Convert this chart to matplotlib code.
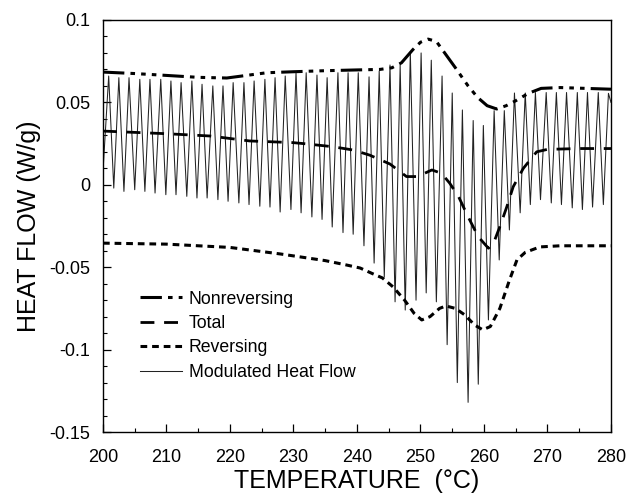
import matplotlib.pyplot as plt
import numpy as np
from matplotlib.ticker import MultipleLocator, FuncFormatter

plt.rcParams['font.family'] = ['Liberation Sans', 'DejaVu Sans']
plt.rcParams['axes.unicode_minus'] = False

# Nonreversing heat flow
nonrev_temp = [200, 205, 209, 215, 219.5, 225.8, 230, 234.7, 240, 243.6, 245.5, 247, 248.8, 250,
               251.2, 252.5, 254, 255.5, 257.5, 259, 260.5, 262, 263.5, 265, 267, 269, 272, 276, 280]
nonrev_flow = [0.0684, 0.0675, 0.0666, 0.0652, 0.0648, 0.068, 0.0686, 0.0692, 0.0697, 0.070, 0.071,
               0.074, 0.082, 0.0865, 0.0884, 0.087, 0.079, 0.071, 0.060, 0.053, 0.048, 0.046, 0.048,
               0.051, 0.0555, 0.0585, 0.059, 0.0585, 0.058]

# Total heat flow
total_temp = [200, 210, 216.9, 223.1, 229.9, 232.1, 236.2, 239.4, 242, 245.2, 247.8, 249.5, 251.8,
              253.3, 254.6, 256, 257.5, 259.1, 260.7, 261.5, 262.5, 263.6, 264.6, 266.2, 268.3,
              270, 275, 280]
total_flow = [0.0326, 0.031, 0.0296, 0.0266, 0.0256, 0.0248, 0.0231, 0.0211, 0.018, 0.0126, 0.005,
              0.005, 0.009, 0.007, 0.001, -0.0072, -0.0194, -0.0315, -0.0385, -0.0355, -0.0254,
              -0.0133, -0.0012, 0.010, 0.020, 0.0215, 0.022, 0.022]

# Reversing heat flow
rev_temp = [200, 210, 220, 228, 235, 238.4, 240.5, 242.5, 244, 245.7, 247.5, 249, 250.2, 251.5,
            253, 254, 255.5, 257, 258.5, 259.8, 261, 262.5, 264, 265.2, 266.5, 268.8, 272, 280]
rev_flow = [-0.0354, -0.036, -0.038, -0.042, -0.046, -0.0487, -0.0505, -0.054, -0.0565, -0.062,
            -0.070, -0.078, -0.082, -0.080, -0.075, -0.0735, -0.075, -0.079, -0.085, -0.088,
            -0.086, -0.075, -0.058, -0.0455, -0.041, -0.0377, -0.037, -0.037]

# Modulated heat flow: peaks and troughs of each cycle
peak_temp = [200.9, 202.5, 204.1, 205.8, 207.4, 209.1, 210.7, 212.3, 214.0, 215.6, 217.3, 218.9,
             220.5, 222.2, 223.8, 225.5, 227.1, 228.7, 230.4, 232.0, 233.7, 235.3, 237.0, 238.6,
             240.2, 241.9, 243.5, 245.2, 246.8, 248.4, 250.1, 251.7, 253.4, 255.0, 256.6, 258.3,
             259.9, 261.6, 263.2, 264.8, 266.5, 268.1, 269.8, 271.4, 273.0, 274.7, 276.3, 278.0,
             279.6]
peak_flow = [0.066, 0.065, 0.065, 0.064, 0.064, 0.064, 0.063, 0.062, 0.063, 0.061, 0.060, 0.060,
             0.062, 0.062, 0.063, 0.064, 0.065, 0.066, 0.068, 0.068, 0.0666, 0.065, 0.068, 0.068,
             0.068, 0.0655, 0.069, 0.0727, 0.0727, 0.0806, 0.080, 0.0756, 0.066, 0.0557, 0.0454,
             0.039, 0.036, 0.045, 0.045, 0.0557, 0.0557, 0.056, 0.056, 0.056, 0.056, 0.056, 0.056,
             0.056, 0.0555]
trough_temp = [201.7, 203.3, 205.0, 206.6, 208.2, 209.9, 211.5, 213.2, 214.8, 216.4, 218.1, 219.7,
               221.4, 223.0, 224.7, 226.3, 227.9, 229.6, 231.2, 232.9, 234.5, 236.1, 237.8, 239.4,
               241.1, 242.7, 244.3, 246.0, 247.6, 249.3, 250.9, 252.5, 254.2, 255.8, 257.5, 259.1,
               260.7, 262.4, 264.0, 265.7, 267.3, 268.9, 270.6, 272.2, 273.9, 275.5, 277.1, 278.8]
trough_flow = [-0.002, -0.004, -0.003, -0.004, -0.005, -0.006, -0.006, -0.007, -0.008, -0.008,
               -0.009, -0.010, -0.011, -0.012, -0.013, -0.0135, -0.0165, -0.015, -0.017, -0.0195,
               -0.021, -0.0256, -0.029, -0.030, -0.037, -0.0475, -0.056, -0.071, -0.076, -0.070,
               -0.0656, -0.071, -0.097, -0.120, -0.132, -0.121, -0.082, -0.0456, -0.0274, -0.017,
               -0.012, -0.009, -0.011, -0.012, -0.014, -0.015, -0.0135, -0.012]
mod_start = (200.0, 0.008)
mod_end = (280.0, 0.050)

mod_temp = np.concatenate([[mod_start[0]], peak_temp, trough_temp, [mod_end[0]]])
mod_flow = np.concatenate([[mod_start[1]], peak_flow, trough_flow, [mod_end[1]]])
order = np.argsort(mod_temp)
mod_temp = mod_temp[order]
mod_flow = mod_flow[order]

fig = plt.figure(figsize=(6.26, 4.96), dpi=100)
ax = fig.add_axes([0.1645, 0.129, 0.8115, 0.8307])

l4, = ax.plot(mod_temp, mod_flow, color='#222222', lw=0.75, label='Modulated Heat Flow', zorder=2)
l1, = ax.plot(nonrev_temp, nonrev_flow, color='black', lw=2.2,
              dashes=(7, 2, 1.5, 2, 1.5, 2, 1.5, 2), label='Nonreversing', zorder=3)
l2, = ax.plot(total_temp, total_flow, color='black', lw=2.0, dashes=(5, 3.5),
              label='Total', zorder=3)
l3, = ax.plot(rev_temp, rev_flow, color='black', lw=2.2, dashes=(2.2, 1.6),
              label='Reversing', zorder=3)

ax.set_xlim(200, 280)
ax.set_ylim(-0.15, 0.1)
ax.xaxis.set_major_locator(MultipleLocator(10))
ax.xaxis.set_minor_locator(MultipleLocator(5))
ax.yaxis.set_major_locator(MultipleLocator(0.05))
ax.yaxis.set_minor_locator(MultipleLocator(0.01))
ax.yaxis.set_major_formatter(FuncFormatter(lambda v, p: '%g' % round(v, 3)))
ax.tick_params(which='both', direction='in', labelsize=13, top=False, right=False)
ax.tick_params(axis='x', which='major', length=6, width=0.9, pad=12)
ax.tick_params(axis='y', which='major', length=6, width=0.9, pad=9)
ax.tick_params(which='minor', length=3, width=0.8)
for s in ax.spines.values():
    s.set_linewidth(1.0)

ax.set_xlabel('TEMPERATURE  (°C)', fontsize=18, labelpad=2.5)
ax.set_ylabel('HEAT FLOW (W/g)', fontsize=18, labelpad=6)

leg = ax.legend(handles=[l1, l2, l3, l4], loc='lower left', bbox_to_anchor=(0.059, 0.107),
                frameon=False, fontsize=12.7, handlelength=2.4, handletextpad=0.35,
                labelspacing=0.42, borderaxespad=0)

fig.savefig('out.png', dpi=100)
